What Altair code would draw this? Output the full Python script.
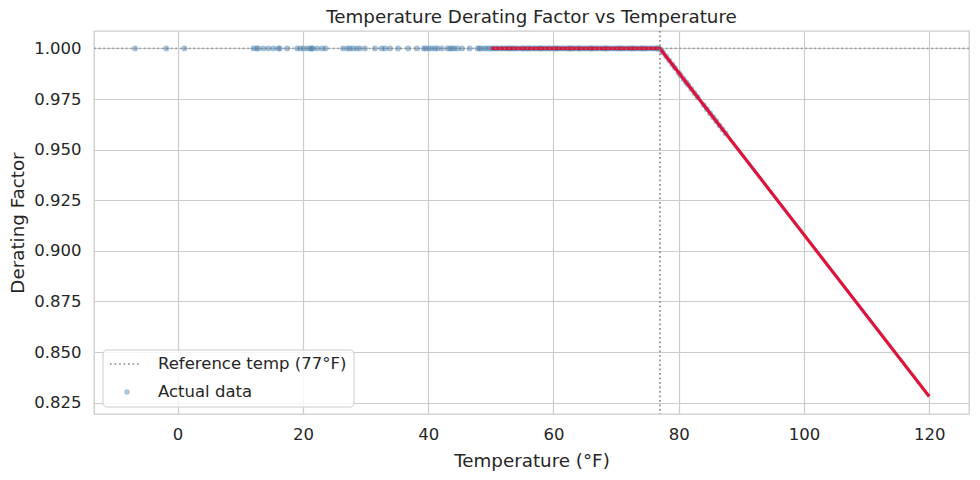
import altair as alt
import pandas as pd

# Readings below the 77°F reference temperature (factor stays at 1.0)
flat_temps = [
    -6.8, -1.8, 1.1, 12.1, 12.6, 12.9, 13.7, 14.5, 15.3, 16.1, 16.3, 17.5,
    19.1, 19.6, 20.1, 20.7, 21.2, 21.4, 21.6, 22.3, 23.1, 23.6, 26.4, 27.1,
    27.5, 28.0, 28.6, 29.1, 29.9, 31.5, 32.6, 33.1, 33.9, 35.2, 36.8, 38.2,
    39.3, 39.6, 40.1, 40.6, 41.1, 41.5, 42.2, 43.1, 43.5, 43.8, 44.2, 44.7,
    45.4, 46.6, 47.9, 48.2, 48.5, 49.0, 49.4, 49.8,
    50.2, 50.5, 50.9, 51.1, 51.6, 51.8, 52.3, 52.5, 52.9, 53.0, 53.4, 53.6,
    54.0, 54.3, 54.8, 55.1, 55.3, 55.7, 55.9, 56.2, 56.4, 56.9, 57.1, 57.5,
    57.8, 58.0, 58.2, 58.6, 58.9, 59.3, 59.5, 60.0, 60.2, 60.5, 60.7, 61.0,
    61.4, 61.7, 62.1, 62.4, 62.6, 62.8, 63.1, 63.3, 63.8, 64.0, 64.2, 64.5,
    64.9, 65.2, 65.6, 65.9, 66.1, 66.3, 66.7, 67.0, 67.4, 67.8, 68.1, 68.3,
    68.5, 68.8, 69.2, 69.6, 70.0, 70.3, 70.6, 70.8, 71.1, 71.5, 71.9, 72.2,
    72.5, 72.7, 73.0, 73.4, 73.8, 74.1, 74.3, 74.6, 74.9, 75.3, 75.7, 76.0,
    76.4, 76.6, 76.8,
]

# Readings above the reference temperature
hot_temps = [77.2, 77.5, 78.0, 78.5, 79.0, 79.4, 80.0, 80.3, 80.8, 81.2, 81.5,
             82.0, 82.5, 83.0, 84.0, 84.5, 85.0, 85.5, 86.0, 86.5, 87.0, 87.5]
hot_factors = [0.9992, 0.998, 0.996, 0.994, 0.992, 0.9904, 0.988, 0.9868,
               0.9848, 0.9832, 0.982, 0.980, 0.978, 0.976, 0.972, 0.970,
               0.968, 0.966, 0.964, 0.962, 0.960, 0.958]

# Derating model curve
curve_temps = [50, 77, 120]
curve_factors = [1.0, 1.0, 0.828]

REF_TEMP = 77
REF_FACTOR = 1.0

points = pd.DataFrame({
    "temp": flat_temps + hot_temps,
    "factor": [1.0] * len(flat_temps) + hot_factors,
})
curve = pd.DataFrame({"temp": curve_temps, "factor": curve_factors})
one = pd.DataFrame({"k": [0]})

W, H = 875, 383
FONT = "DejaVu Sans"
TXT = "#262626"
TICK_FS = 16.5
TITLE_FS = 18.3

x_scale = alt.Scale(domain=[-13.35, 126.35], nice=False, zero=False)
y_scale = alt.Scale(domain=[0.8194, 1.0086], nice=False, zero=False)

x_axis = alt.Axis(
    title="Temperature (°F)", values=[0, 20, 40, 60, 80, 100, 120],
    format="d", labelPadding=12, titleY=47, titleBaseline="middle",
)
y_axis = alt.Axis(
    title="Derating Factor",
    values=[0.825, 0.85, 0.875, 0.9, 0.925, 0.95, 0.975, 1.0],
    format=".3f", labelPadding=13, titleX=-67, titleY=H / 2,
)

scatter = alt.Chart(points).mark_circle(
    size=34, color="steelblue", opacity=0.5
).encode(
    x=alt.X("temp:Q", scale=x_scale, axis=x_axis),
    y=alt.Y("factor:Q", scale=y_scale, axis=y_axis),
)

model = alt.Chart(curve).mark_line(color="crimson", strokeWidth=3.2).encode(
    x="temp:Q", y="factor:Q"
)

vref = alt.Chart(one).mark_rule(
    color="gray", strokeDash=[1.7, 2.8], strokeWidth=1.7, opacity=0.9
).encode(x=alt.datum(REF_TEMP))

href = alt.Chart(one).mark_rule(
    color="gray", strokeDash=[1.7, 2.8], strokeWidth=1.7, opacity=0.7
).encode(y=alt.datum(REF_FACTOR))

# Legend box
legend_box = alt.Chart(one).mark_rect(
    fill="white", fillOpacity=0.8, stroke="#cccccc", strokeWidth=1, cornerRadius=4
).encode(
    x=alt.value(9), x2=alt.value(260), y=alt.value(319), y2=alt.value(376)
)
legend_line = alt.Chart(one).mark_rule(
    color="gray", strokeDash=[1.7, 2.8], strokeWidth=1.7, opacity=0.9
).encode(x=alt.value(16), x2=alt.value(46), y=alt.value(333))
legend_dot = alt.Chart(one).mark_circle(
    size=30, color="steelblue", opacity=0.45
).encode(x=alt.value(33), y=alt.value(361))
legend_text1 = alt.Chart(one).mark_text(
    align="left", baseline="middle", fontSize=TICK_FS, font=FONT, color=TXT
).encode(x=alt.value(64), y=alt.value(333), text=alt.value("Reference temp (77°F)"))
legend_text2 = alt.Chart(one).mark_text(
    align="left", baseline="middle", fontSize=TICK_FS, font=FONT, color=TXT
).encode(x=alt.value(64), y=alt.value(361), text=alt.value("Actual data"))

chart = alt.layer(
    scatter, model, vref, href,
    legend_box, legend_line, legend_dot, legend_text1, legend_text2,
).properties(
    width=W, height=H,
    background="white",
    title=alt.TitleParams(
        "Temperature Derating Factor vs Temperature",
        fontSize=TITLE_FS, font=FONT, color=TXT, fontWeight="normal", offset=3,
    ),
    autosize=alt.AutoSizeParams(type="none"),
    padding={"left": 94, "top": 31, "right": 11, "bottom": 66},
).configure_view(
    stroke="#cccccc", strokeWidth=1.3
).configure_axis(
    grid=True, gridColor="#cccccc", gridWidth=1.2, domain=False, ticks=False,
    labelFont=FONT, labelFontSize=TICK_FS, labelColor=TXT,
    titleFont=FONT, titleFontSize=TITLE_FS, titleColor=TXT, titleFontWeight="normal",
)

chart.save("out.html", embed_options={"renderer": "svg", "actions": False})
